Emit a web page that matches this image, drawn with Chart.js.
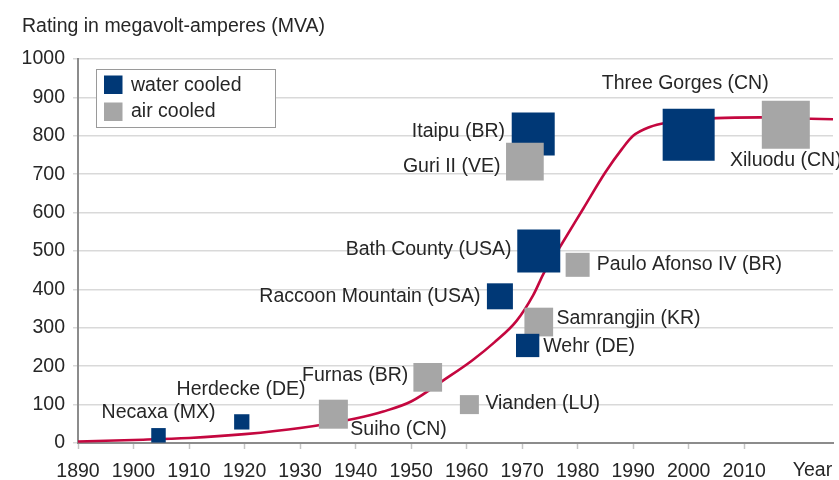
<!DOCTYPE html>
<html><head><meta charset="utf-8">
<script src="https://cdn.jsdelivr.net/npm/chart.js@4.4.1/dist/chart.umd.min.js"></script>
<style>html,body{margin:0;padding:0;background:#fff;}#wrap{width:839px;height:480px;position:relative;}</style>
</head><body><div id="wrap"><canvas id="c" width="839" height="480"></canvas></div>
<script>
// ---------- DATA ----------
const plantNames = ['Necaxa (MX)','Herdecke (DE)','Suiho (CN)','Furnas (BR)','Vianden (LU)','Raccoon Mountain (USA)','Samrangjin (KR)','Wehr (DE)','Bath County (USA)','Paulo Afonso IV (BR)','Itaipu (BR)','Guri II (VE)','Three Gorges (CN)','Xiluodu (CN)'];
const plantYears   = [1904.5, 1919.5, 1936, 1953, 1960.5, 1966, 1973, 1971, 1973, 1980, 1972, 1970.5, 2000, 2017.5];
const plantRatings = [20, 55, 75, 171, 100, 382, 315, 254, 500, 464, 805, 733, 803, 829];
const plantCooling = ['water','water','air','air','air','water','air','water','water','air','water','air','water','air'];
const curveYears   = [1890, 1900, 1910, 1920, 1930, 1940, 1945, 1950, 1956, 1961, 1965, 1969, 1972, 1974, 1977, 1981, 1985, 1988, 1990, 1993, 1996, 2000, 2005, 2013, 2020, 2026];
const curveRatings = [4, 8, 13, 23, 39, 64, 82, 108, 165, 215, 262, 318, 385, 445, 515, 610, 705, 766, 800, 823, 834, 840, 846, 848, 845, 843];
const xTickYears   = [1890, 1900, 1910, 1920, 1930, 1940, 1950, 1960, 1970, 1980, 1990, 2000, 2010];
const yTickValues  = [0, 100, 200, 300, 400, 500, 600, 700, 800, 900, 1000];
const seriesNames  = {water: 'water cooled', air: 'air cooled'};
const titleText = 'Rating in megavolt-amperes (MVA)';
const xAxisText = 'Year';

// ---------- STYLE ----------
const FONT_FAMILY = '"Liberation Sans", Arial, Helvetica, sans-serif';
const FONT_SIZE = 19.5;
const FONT = FONT_SIZE + 'px ' + FONT_FAMILY;
const COLORS = {water: '#003876', air: '#a6a6a6', curve: '#c4073f', text: '#262626', grid: '#d9d9d9', axis: '#8c8c8c'};
const squareSide = [14.5, 15.3, 29, 28.7, 19, 26, 28.7, 23.3, 43, 24, 43, 37.7, 52, 48];
// [textAlign, dx, dy] relative to square centre
const labelLayout = [
  ['center', 0, -22.5], ['center', -0.7, -32], ['left', 17, 15], ['right', -19.5, -2],
  ['left', 16, -0.7], ['right', -19.5, 0], ['left', 17.7, -3], ['left', 15.6, 1],
  ['right', -27.3, -1], ['left', 19, 0], ['right', -28.2, -2], ['right', -24.5, 5],
  ['center', -3.4, -51.5], ['center', 0, 36]
];

const annot = {
  id: 'annot',
  afterDatasetsDraw(chart) {
    const ctx = chart.ctx;
    const meta = chart.getDatasetMeta(0);
    ctx.save();
    ctx.font = FONT;
    ctx.fillStyle = COLORS.text;
    ctx.textBaseline = 'middle';
    meta.data.forEach((pt, i) => {
      const [al, dx, dy] = labelLayout[i];
      ctx.textAlign = al;
      ctx.fillText(plantNames[i], pt.x + dx, pt.y + dy);
    });
    // title
    ctx.textAlign = 'left';
    ctx.textBaseline = 'alphabetic';
    ctx.fillText(titleText, 22, 32);
    // axis word
    ctx.textAlign = 'center';
    ctx.textBaseline = 'middle';
    const ca = chart.chartArea;
    ctx.fillText(xAxisText, ca.right - 20.5, 471);
    // legend
    ctx.fillStyle = '#fff';
    ctx.fillRect(96, 69, 179, 58);
    ctx.strokeStyle = '#9a9a9a';
    ctx.lineWidth = 1;
    ctx.strokeRect(96.5, 69.5, 179, 58);
    ['water', 'air'].forEach((k, j) => {
      ctx.fillStyle = COLORS[k];
      ctx.fillRect(104, 75.5 + j * 27, 18.5, 18.5);
      ctx.fillStyle = COLORS.text;
      ctx.textAlign = 'left';
      ctx.fillText(seriesNames[k], 131, 86 + j * 26);
    });
    ctx.restore();
  }
};

const ctx = document.getElementById('c').getContext('2d');
new Chart(ctx, {
  type: 'scatter',
  data: {
    datasets: [
      {
        type: 'scatter',
        data: plantYears.map((y, i) => ({x: y, y: plantRatings[i]})),
        backgroundColor: plantCooling.map(c => COLORS[c]),
        borderWidth: 0,
        pointStyle: 'rect',
        pointRadius: squareSide.map(s => s / Math.SQRT2),
        pointHoverRadius: squareSide.map(s => s / Math.SQRT2),
        clip: false,
        order: 1
      },
      {
        type: 'line',
        data: curveYears.map((y, i) => ({x: y, y: curveRatings[i]})),
        borderColor: COLORS.curve,
        borderWidth: 2.6,
        pointRadius: 0,
        fill: false,
        cubicInterpolationMode: 'monotone',
        clip: false,
        order: 2
      }
    ]
  },
  options: {
    responsive: false,
    animation: false,
    events: [],
    layout: {autoPadding: false, padding: {top: 59, right: 6, left: 0, bottom: 0}},
    plugins: {legend: {display: false}, tooltip: {enabled: false}},
    scales: {
      x: {
        type: 'linear', position: 'bottom', min: 1890, max: 2026,
        afterBuildTicks: s => { s.ticks = xTickYears.map(v => ({value: v})); },
        afterFit: s => { s.height = 37; s.paddingLeft = 0; s.paddingRight = 0; },
        border: {color: COLORS.axis, width: 2},
        grid: {drawOnChartArea: false, drawTicks: true, tickLength: 6, tickColor: '#c4c4c4', tickWidth: 1.5},
        ticks: {padding: 11, color: COLORS.text, font: {family: FONT_FAMILY, size: FONT_SIZE}, maxRotation: 0, autoSkip: false, callback: v => String(v)}
      },
      y: {
        min: 0, max: 1000,
        afterBuildTicks: s => { s.ticks = yTickValues.map(v => ({value: v})); },
        afterFit: s => { s.width = 78; s.paddingTop = 0; s.paddingBottom = 0; },
        border: {color: COLORS.axis, width: 2},
        grid: {color: COLORS.grid, lineWidth: 1.5, tickLength: 5, tickColor: COLORS.grid},
        ticks: {padding: 8, color: COLORS.text, font: {family: FONT_FAMILY, size: FONT_SIZE}, callback: v => String(v)}
      }
    }
  },
  plugins: [annot]
});
</script></body></html>
